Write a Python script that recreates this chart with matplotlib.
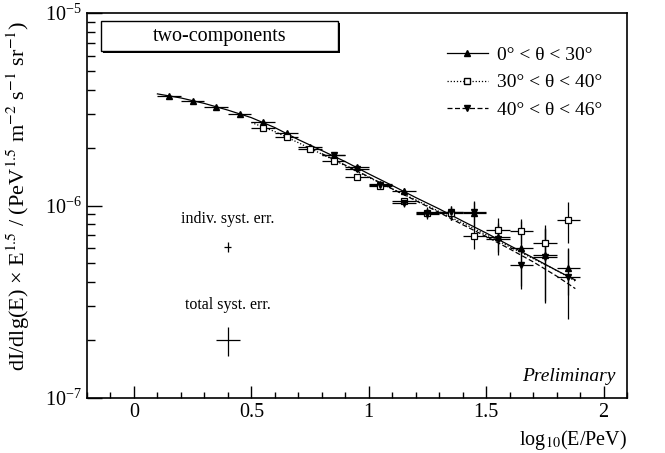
import numpy as np
import matplotlib.pyplot as plt
from matplotlib.lines import Line2D
from matplotlib.patches import Rectangle
from matplotlib.ticker import MultipleLocator, NullFormatter, FuncFormatter

plt.rcParams['font.family'] = ['Liberation Serif', 'DejaVu Serif']
plt.rcParams['mathtext.fontset'] = 'stix'

# bin centres in log10(E/PeV), half bin width
bin_half = 0.05

# 0 < theta < 30 (triangle up)
x_a = [0.15, 0.25, 0.35, 0.45, 0.55, 0.65, 0.75, 0.85, 0.95,
       1.05, 1.15, 1.25, 1.35, 1.45, 1.55, 1.65, 1.75, 1.85]
y_a = [3.71e-6, 3.49e-6, 3.25e-6, 2.99e-6, 2.72e-6, 2.38e-6, 2.01e-6, 1.82e-6, 1.58e-6,
       1.29e-6, 1.19e-6, 9.3e-7, 9.2e-7, 9.1e-7, 6.9e-7, 6.0e-7, 5.5e-7, 4.72e-7]
e_a = [5e-8, 5e-8, 5e-8, 4e-8, 4e-8, 4e-8, 3e-8, 3e-8, 3e-8,
       4e-8, 5e-8, 5e-8, 8e-8, 1.3e-7, 1.2e-7, 2.3e-7, 2.4e-7, 1.3e-7]

# 30 < theta < 40 (open square)
x_b = [0.55, 0.65, 0.75, 0.85, 0.95, 1.05, 1.15, 1.25, 1.35, 1.45, 1.55, 1.65, 1.75, 1.85]
y_b = [2.53e-6, 2.27e-6, 1.97e-6, 1.71e-6, 1.41e-6, 1.27e-6, 1.06e-6, 9.1e-7, 9.1e-7,
       6.95e-7, 7.46e-7, 7.4e-7, 6.36e-7, 8.41e-7]
e_b = [4e-8, 4e-8, 3e-8, 3e-8, 3e-8, 4e-8, 4e-8, 5e-8, 7e-8,
       1.0e-7, 1.1e-7, 1.1e-7, 1.2e-7, 2.0e-7]

# 40 < theta < 46 (triangle down)
x_c = [0.85, 0.95, 1.05, 1.15, 1.25, 1.35, 1.45, 1.55, 1.65, 1.75, 1.85]
y_c = [1.82e-6, 1.55e-6, 1.28e-6, 1.03e-6, 9.0e-7, 9.2e-7, 9.2e-7, 6.7e-7, 4.91e-7, 5.4e-7, 4.27e-7]
e_c = [3e-8, 3e-8, 4e-8, 5e-8, 5e-8, 8e-8, 1.3e-7, 1.2e-7, 1.1e-7, 2.2e-7, 1.7e-7]

# two-component fits
fit_x_a = [0.10, 0.20, 0.30, 0.40, 0.50, 0.60, 0.70, 0.80, 0.90, 1.00,
           1.10, 1.20, 1.30, 1.40, 1.50, 1.60, 1.70, 1.80, 1.88]
fit_y_a = [3.80e-6, 3.62e-6, 3.39e-6, 3.13e-6, 2.86e-6, 2.54e-6, 2.20e-6, 1.93e-6, 1.69e-6, 1.46e-6,
           1.27e-6, 1.10e-6, 9.6e-7, 8.3e-7, 7.2e-7, 6.2e-7, 5.35e-7, 4.6e-7, 4.1e-7]
fit_x_b = [0.50, 0.60, 0.70, 0.80, 0.90, 1.00, 1.10, 1.20, 1.30, 1.40, 1.50, 1.60, 1.70, 1.80, 1.88]
fit_y_b = [2.70e-6, 2.42e-6, 2.12e-6, 1.85e-6, 1.61e-6, 1.40e-6, 1.22e-6, 1.07e-6, 9.3e-7,
           8.1e-7, 7.05e-7, 6.1e-7, 5.3e-7, 4.6e-7, 4.05e-7]
fit_x_c = [0.80, 0.90, 1.00, 1.10, 1.20, 1.30, 1.40, 1.50, 1.60, 1.70, 1.80, 1.88]
fit_y_c = [1.86e-6, 1.62e-6, 1.41e-6, 1.22e-6, 1.06e-6, 9.2e-7, 7.95e-7, 6.9e-7, 5.95e-7, 5.1e-7, 4.3e-7, 3.7e-7]

# systematic error crosses
syst_x = [0.40, 0.40]
syst_y = [6.1e-7, 2.0e-7]
syst_xerr = [0.015, 0.05]
syst_yerr = [4e-8, 3.5e-8]

labels = ['0° < θ < 30°', '30° < θ < 40°', '40° < θ < 46°']

fig = plt.figure(figsize=(6.65, 4.53), dpi=100)
ax = fig.add_axes([87/665, 1 - 398/453, 540/665, 385/453])
ax.set_yscale('log')
ax.set_xlim(-0.2, 2.1)
ax.set_ylim(1e-7, 1e-5)

# fit curves
ax.plot(fit_x_a, fit_y_a, color='k', ls='-', lw=0.9)
ax.plot(fit_x_b, fit_y_b, color='k', ls=(0, (1, 1.5)), lw=0.9)
ax.plot(fit_x_c, fit_y_c, color='k', ls=(0, (4, 2)), lw=0.9)

# data points
ax.errorbar(x_a, y_a, xerr=bin_half, yerr=e_a, fmt='^', color='k', ms=5,
            elinewidth=0.9, capsize=0)
ax.errorbar(x_b, y_b, xerr=bin_half, yerr=e_b, fmt='s', color='k', mfc='white', ms=4.5,
            mew=0.9, elinewidth=0.9, capsize=0)
ax.errorbar(x_c, y_c, xerr=bin_half, yerr=e_c, fmt='v', color='k', ms=5,
            elinewidth=0.9, capsize=0)
ax.errorbar(syst_x, syst_y, xerr=syst_xerr, yerr=syst_yerr, fmt='none', ecolor='k',
            elinewidth=0.9, capsize=0)

ax.text(0.40, 8.5e-7, 'indiv. syst. err.', ha='center', va='center', fontsize=11.5)
ax.text(0.40, 3.05e-7, 'total syst. err.', ha='center', va='center', fontsize=11.5)
ax.text(0.978, 0.057, 'Preliminary', transform=ax.transAxes, ha='right', va='center',
        fontsize=14, style='italic')

# axes style (ROOT like)
ax.xaxis.set_major_locator(MultipleLocator(0.5))
ax.xaxis.set_minor_locator(MultipleLocator(0.1))
ax.xaxis.set_major_formatter(FuncFormatter(lambda v, p: '%g' % v))
ax.yaxis.set_minor_formatter(NullFormatter())
ax.tick_params(which='both', direction='in', top=False, right=False, labelsize=14.5, width=1)
ax.xaxis.set_tick_params(which='major', length=8.5)
ax.xaxis.set_tick_params(which='minor', length=4.3)
ax.yaxis.set_tick_params(which='major', length=10.8)
ax.yaxis.set_tick_params(which='minor', length=5.8)
for s in ax.spines.values():
    s.set_linewidth(1.2)

fig.text(18/665, 1 - 196/453,
         r'dI/dlg(E) × E$^{1.5}$ / (PeV$^{1.5}$ m$^{-2}$ s$^{-1}$ sr$^{-1}$)',
         rotation=90, ha='center', va='center', fontsize=16)
fig.text(627/665, 1 - 440/453, r'log$_{10}$(E/PeV)', ha='right', va='center', fontsize=14.5)

# title box with shadow
fig.patches.append(Rectangle((103/665, 1 - 53/453), 237/665, 30/453, transform=fig.transFigure,
                             facecolor='k', edgecolor='k', lw=0))
fig.patches.append(Rectangle((101/665, 1 - 51/453), 237/665, 30/453, transform=fig.transFigure,
                             facecolor='white', edgecolor='k', lw=1))
fig.text(220/665, 1 - 36/453, 'two-components', ha='center', va='center', fontsize=14.5)

# legend
handles = [Line2D([], [], color='k', ls='-', lw=0.9, marker='^', ms=5),
           Line2D([], [], color='k', ls=(0, (1, 1.5)), lw=0.9, marker='s', mfc='white', ms=4.5),
           Line2D([], [], color='k', ls=(0, (4, 2)), lw=0.9, marker='v', ms=5)]
fig.legend(handles, labels, loc='upper left', bbox_to_anchor=(447/665, 1 - 46/453),
           frameon=False, fontsize=14, borderpad=0, borderaxespad=0, handlelength=2.1,
           handletextpad=0.45, labelspacing=0.52, numpoints=1)

fig.savefig('out.png', dpi=100)
